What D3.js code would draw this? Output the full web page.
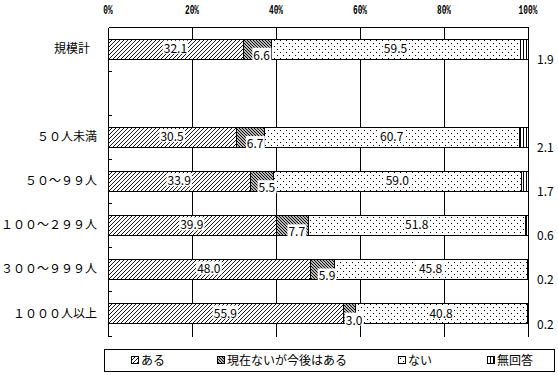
<!DOCTYPE html>
<html><head><meta charset="utf-8">
<script src="https://cdn.jsdelivr.net/npm/d3@7"></script>
<style>
html,body{margin:0;padding:0;background:#fff;}
svg{display:block;}
</style>
</head><body>
<svg id="chart" width="558" height="375"></svg>
<script>
// ---- data ----
const categories = ["規模計", "", "５０人未満", "５０～９９人", "１００～２９９人", "３００～９９９人", "１０００人以上"];
const seriesNames = ["ある", "現在ないが今後はある", "ない", "無回答"];
const aru     = [32.1, null, 30.5, 33.9, 39.9, 48.0, 55.9];
const kongo   = [6.6,  null, 6.7,  5.5,  7.7,  5.9,  3.0];
const nai     = [59.5, null, 60.7, 59.0, 51.8, 45.8, 40.8];
const mukaito = [1.9,  null, 2.1,  1.7,  0.6,  0.2,  0.2];
const tickValues = [0, 20, 40, 60, 80, 100];
const tickLabels = ["0%", "20%", "40%", "60%", "80%", "100%"];

(function () {
const seriesValues = [aru, kongo, nai, mukaito];
const keys = ["s0", "s1", "s2", "s3"];
const rows = categories.map((c, i) => ({
  idx: i, cat: c, blank: aru[i] == null,
  s0: aru[i] || 0, s1: kongo[i] || 0, s2: nai[i] || 0, s3: mukaito[i] || 0
}));

const svg = d3.select("#chart");
const pL = 108, pR = 528, pT = 26.5, pB = 335.5;
const x = d3.scaleLinear().domain([0, 100]).range([pL, pR]);
const y = d3.scaleBand().domain(d3.range(categories.length)).range([pT, pB])
  .paddingInner(0.547).paddingOuter(0.2735);
const step = y.step();
const px = v => Math.round(v) + 0.5;

const cjk = "'Noto Sans CJK JP', 'Noto Sans', sans-serif";
const mono = "'Liberation Mono', 'DejaVu Sans Mono', monospace";

// ---- patterns ----
const defs = svg.append("defs");
function pat(id, w, h, draw) {
  const p = defs.append("pattern").attr("id", id).attr("patternUnits", "userSpaceOnUse")
    .attr("width", w).attr("height", h);
  p.append("rect").attr("width", w).attr("height", h).attr("fill", "#fff");
  draw(p);
}
pat("p0", 4, 4, p => p.append("path").attr("d", "M-1,1 L1,-1 M0,4 L4,0 M3,5 L5,3")
  .attr("stroke", "#000").attr("stroke-width", 0.9));
pat("p1", 3, 3, p => p.append("path").attr("d", "M-1,2 L1,4 M0,0 L3,3 M2,-1 L4,1")
  .attr("stroke", "#000").attr("stroke-width", 1.1));
pat("p2", 6, 6, p => {
  p.append("rect").attr("x", 1).attr("y", 1).attr("width", 1).attr("height", 1).attr("fill", "#000");
  p.append("rect").attr("x", 4).attr("y", 4).attr("width", 1).attr("height", 1).attr("fill", "#000");
});
pat("p3", 3, 3, p => p.append("rect").attr("x", 1).attr("y", 0).attr("width", 1).attr("height", 3).attr("fill", "#000"));

// ---- grid & frame ----
const g = svg.append("g").attr("shape-rendering", "crispEdges");
g.selectAll(".grid").data(tickValues.slice(1, -1)).join("line")
  .attr("x1", d => px(x(d))).attr("x2", d => px(x(d)))
  .attr("y1", px(pT)).attr("y2", px(pB)).attr("stroke", "#000");
g.append("line").attr("x1", px(x(0))).attr("x2", px(x(100))).attr("y1", px(pT)).attr("y2", px(pT)).attr("stroke", "#000");
g.append("line").attr("x1", px(x(100))).attr("x2", px(x(100))).attr("y1", px(pT)).attr("y2", px(pB)).attr("stroke", "#000");

// top tick labels
svg.append("g").selectAll("text").data(tickValues).join("text")
  .attr("x", d => x(d)).attr("y", 13.5)
  .attr("text-anchor", "middle")
  .attr("font-family", mono).attr("font-size", 12).attr("font-weight", "bold")
  .attr("textLength", (d, i) => tickLabels[i].length * 4.7)
  .attr("lengthAdjust", "spacingAndGlyphs")
  .text((d, i) => tickLabels[i]);

// ---- bars ----
const stack = d3.stack().keys(keys)(rows);
const barG = svg.append("g").attr("shape-rendering", "crispEdges");
stack.forEach((layer, si) => {
  barG.selectAll(".b" + si).data(layer.filter(d => !d.data.blank)).join("rect")
    .attr("class", "b" + si)
    .attr("x", d => px(x(d[0])))
    .attr("y", d => px(y(d.data.idx)))
    .attr("width", d => Math.max(0, Math.round(x(d[1])) - Math.round(x(d[0]))))
    .attr("height", Math.round(y.bandwidth()))
    .attr("fill", "url(#p" + si + ")")
    .attr("stroke", "#000").attr("stroke-width", 1);
});

// left axis with ticks
const ax = svg.append("g").attr("shape-rendering", "crispEdges");
ax.append("line").attr("x1", px(pL)).attr("x2", px(pL)).attr("y1", px(pT)).attr("y2", px(pB)).attr("stroke", "#000");
ax.selectAll(".tk").data(d3.range(1, categories.length + 1)).join("line")
  .attr("class", "tk")
  .attr("x1", px(pL)).attr("x2", px(pL) + 3)
  .attr("y1", i => px(pT + i * step)).attr("y2", i => px(pT + i * step))
  .attr("stroke", "#000");

// category labels
svg.append("g").selectAll("text").data(rows.filter(r => !r.blank)).join("text")
  .attr("x", d => d.idx === 0 ? 90 : 97)
  .attr("y", d => y(d.idx) + y.bandwidth() / 2)
  .attr("dy", "0.35em")
  .attr("text-anchor", "end")
  .attr("font-family", cjk).attr("font-size", 12)
  .text(d => d.cat);

// ---- data labels ----
const lblG = svg.append("g");
function addLabel(xp, yp, txt, anchor, bg) {
  const t = lblG.append("text").attr("x", xp).attr("y", yp).attr("dy", "0.35em")
    .attr("text-anchor", anchor).attr("font-family", cjk).attr("font-size", 12)
    .text(txt);
  if (bg) {
    const b = t.node().getBBox();
    lblG.insert("rect", () => t.node())
      .attr("x", b.x - 1).attr("y", b.y + 2).attr("width", b.width + 2).attr("height", b.height - 4)
      .attr("fill", "#fff");
  }
}
stack.forEach((layer, si) => {
  layer.filter(d => !d.data.blank).forEach(d => {
    const v = seriesValues[si][d.data.idx];
    const txt = v.toFixed(1);
    const y0 = y(d.data.idx), h = y.bandwidth();
    if (si === 0 || si === 2) {
      addLabel((x(d[0]) + x(d[1])) / 2, y0 + h / 2, txt, "middle", true);
    } else if (si === 1) {
      addLabel((x(d[0]) + x(d[1])) / 2 + 5, y0 + h - 3, txt, "middle", true);
    } else {
      addLabel(537, y0 + h + 1, txt, "start", false);
    }
  });
});

// ---- legend ----
const leg = svg.append("g");
leg.append("rect").attr("x", 104.5).attr("y", 349.5).attr("width", 450).attr("height", 22)
  .attr("fill", "#fff").attr("stroke", "#000").attr("shape-rendering", "crispEdges");
const legX = [131, 217, 398, 487];
seriesNames.forEach((n, i) => {
  leg.append("rect").attr("x", legX[i] + 0.5).attr("y", 356.5).attr("width", 7).attr("height", 7)
    .attr("fill", "url(#p" + i + ")").attr("stroke", "#000").attr("shape-rendering", "crispEdges");
  leg.append("text").attr("x", legX[i] + 10).attr("y", 360.5).attr("dy", "0.35em")
    .attr("font-family", cjk).attr("font-size", 12).text(n);
});
})();
</script>
</body></html>
